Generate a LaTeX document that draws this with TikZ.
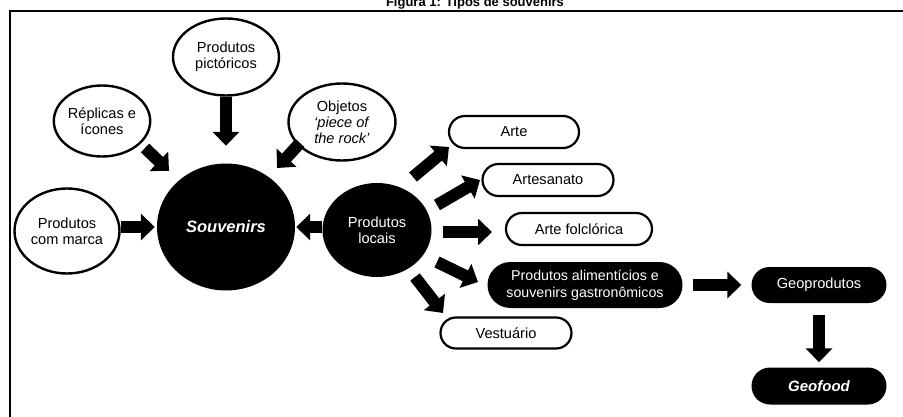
\documentclass[tikz,border=0pt]{standalone}
\usepackage{fontspec}
\setmainfont{Liberation Sans}
\usetikzlibrary{arrows.meta,calc,shapes.geometric}

\begin{document}
\begin{tikzpicture}[x=1pt,y=-1pt,
  every node/.style={font=\fontsize{14.6}{15.8}\selectfont, align=center, inner sep=0pt},
  bubble/.style={ellipse, draw=black, line width=2.4pt, fill=white},
  darkbubble/.style={ellipse, fill=black, text=white},
  pill/.style={rectangle, rounded corners=16pt, draw=black, line width=2.2pt, fill=white,
    minimum height=32pt},
  darkpill/.style={rectangle, fill=black, text=white},
  bigarrow/.style={line width=12pt, -{Triangle[width=26pt,length=14pt]}},
]
\useasboundingbox (0,0) rectangle (903,417);

% caption and frame
\node[font=\bfseries\fontsize{13}{13}\selectfont, anchor=base] (title) at (475,7)
  {Figura 1: Tipos de souvenirs};
\draw[line width=2pt] (9.5,520) -- (9.5,11.5) -- (1000,11.5);

% central souvenir cluster
\node[darkbubble, minimum width=138pt, minimum height=127pt,
  font=\bfseries\itshape\fontsize{16.5}{18}\selectfont] (souv) at (226,227) {Souvenirs};
\node[darkbubble, minimum width=109pt, minimum height=94pt] (pl) at (377,230) {Produtos\\locais};
\node[bubble, minimum width=105pt, minimum height=85pt] (marca) at (67,231) {Produtos\\com marca};
\node[bubble, minimum width=90pt, minimum height=71pt] (repl) at (102,121) {Réplicas e\\ícones};
\node[bubble, minimum width=106pt, minimum height=77pt] (pict) at (226,57) {Produtos\\pictóricos};
\node[bubble, minimum width=107pt, minimum height=77pt] (obj) at (342,122)
  {Objetos\\\textit{‘piece of}\\\textit{the rock’}};

% local product categories
\node[pill, minimum width=130pt] (arte) at (514,132) {Arte};
\node[pill, minimum width=131pt] (artes) at (548,180) {Artesanato};
\node[pill, minimum width=146pt] (folc) at (579,229) {Arte folclórica};
\node[darkpill, rounded corners=23pt, minimum width=195pt, minimum height=46pt,
  font=\fontsize{14.2}{16.5}\selectfont] (alim) at (585,285)
  {Produtos alimentícios e\\souvenirs gastronômicos};
\node[pill, minimum width=131pt, minimum height=31pt, rounded corners=15.5pt] (vest) at (506,333) {Vestuário};
\node[darkpill, rounded corners=18pt, minimum width=135pt, minimum height=36pt] (geop) at (819,285) {Geoprodutos};
\node[darkpill, rounded corners=18.5pt, minimum width=135pt, minimum height=37pt,
  font=\bfseries\itshape\fontsize{15}{16}\selectfont] (geof) at (819,386) {Geofood};

% arrows into Souvenirs
\draw[bigarrow, shorten >=17.5pt] (pict.south) -- (souv.north);
\draw[bigarrow] ($(repl)+(43,27)$) -- ($(souv)+(-57,-56)$);
\draw[bigarrow] ($(obj)+(-42,21)$) -- ($(souv)+(51,-59)$);
\draw[bigarrow, shorten >=2pt] (marca.east |- souv) -- (souv.west);
\draw[bigarrow, shorten >=1pt] (pl.west |- souv) -- (souv.east);

% arrows out of Produtos locais
\draw[bigarrow] ($(pl)+(36,-53)$) -- ($(arte)+(-65,15)$);
\draw[bigarrow] ($(pl)+(60,-25)$) -- ($(artes)+(-68,0)$);
\draw[bigarrow] ($(pl)+(66,2)$) -- ($(folc)+(-87,3)$);
\draw[bigarrow] ($(pl)+(60,32)$) -- ($(alim)+(-107,-3)$);
\draw[bigarrow] ($(pl)+(38,47)$) -- ($(vest)+(-63,-20)$);

% geoproduct chain
\draw[bigarrow, shorten <=10pt, shorten >=10pt] (alim.east) -- (geop.west);
\draw[bigarrow, shorten <=12pt, shorten >=5pt] (geop.south) -- (geof.north);
\end{tikzpicture}
\end{document}
